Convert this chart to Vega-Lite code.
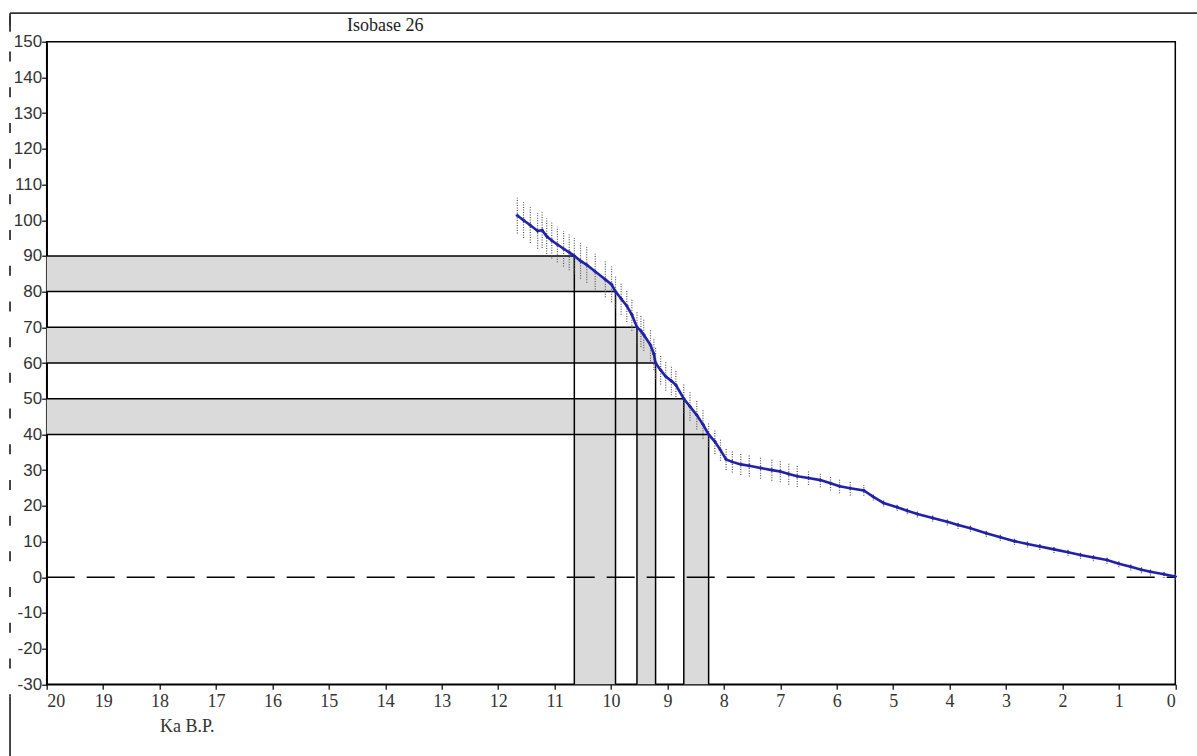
{
  "$schema": "https://vega.github.io/schema/vega-lite/v6.json",
  "width": 1128.6,
  "height": 642.6,
  "autosize": {"type": "none"},
  "padding": {"left": 46.7, "top": 41.7, "right": 21.7, "bottom": 71.7},
  "background": "white",
  "config": {
    "view": {"stroke": "black", "strokeWidth": 1.5},
    "axis": {
      "grid": false,
      "domainColor": "black",
      "domainWidth": 1.5,
      "tickColor": "black",
      "tickWidth": 1.2,
      "tickSize": 5,
      "labelColor": "#333"
    },
    "axisX": {
      "tickCount": 20,
      "labelFont": "Liberation Serif",
      "labelFontSize": 18,
      "labelPadding": 3,
      "titleFont": "Liberation Serif",
      "titleFontSize": 18,
      "titleFontWeight": "normal",
      "titleColor": "#333",
      "titleX": 140,
      "titleY": 47,
      "titleAlign": "center",
      "titleBaseline": "alphabetic"
    },
    "axisY": {
      "tickCount": 18,
      "labelFont": "Liberation Sans",
      "labelFontSize": 17,
      "labelPadding": 0,
      "labelExpr": "toString(datum.value)"
    }
  },
  "datasets": {
    "curve": [
      {"x": 11.66, "y": 101.3, "err": 5},
      {"x": 11.55, "y": 100.0, "err": 5},
      {"x": 11.43, "y": 98.6, "err": 5},
      {"x": 11.30, "y": 97.0, "err": 5},
      {"x": 11.22, "y": 97.2, "err": 5},
      {"x": 11.14, "y": 95.5, "err": 5},
      {"x": 11.05, "y": 94.3, "err": 5},
      {"x": 10.95, "y": 93.2, "err": 5},
      {"x": 10.84, "y": 92.0, "err": 5},
      {"x": 10.74, "y": 91.0, "err": 5},
      {"x": 10.65, "y": 90.0, "err": 5},
      {"x": 10.54, "y": 88.6, "err": 5},
      {"x": 10.43, "y": 87.5, "err": 5},
      {"x": 10.28, "y": 85.6, "err": 5},
      {"x": 10.10, "y": 83.4, "err": 5},
      {"x": 9.99, "y": 82.0, "err": 5},
      {"x": 9.92, "y": 80.0, "err": 4.5},
      {"x": 9.82, "y": 78.0, "err": 4.5},
      {"x": 9.72, "y": 76.0, "err": 4.5},
      {"x": 9.63, "y": 73.5, "err": 4.5},
      {"x": 9.54, "y": 70.0, "err": 4.5},
      {"x": 9.47, "y": 69.0, "err": 4.5},
      {"x": 9.42, "y": 67.9, "err": 4.5},
      {"x": 9.30, "y": 65.0, "err": 4.5},
      {"x": 9.24, "y": 62.5, "err": 4.5},
      {"x": 9.21, "y": 60.0, "err": 4.5},
      {"x": 9.12, "y": 58.0, "err": 4},
      {"x": 9.03, "y": 56.2, "err": 4},
      {"x": 8.93, "y": 55.0, "err": 4},
      {"x": 8.85, "y": 53.8, "err": 4},
      {"x": 8.71, "y": 50.0, "err": 4},
      {"x": 8.60, "y": 47.8, "err": 4},
      {"x": 8.48, "y": 45.4, "err": 4},
      {"x": 8.37, "y": 42.8, "err": 4},
      {"x": 8.27, "y": 40.0, "err": 3.5},
      {"x": 8.16, "y": 38.0, "err": 3.5},
      {"x": 8.06, "y": 35.6, "err": 3},
      {"x": 7.96, "y": 33.0, "err": 3},
      {"x": 7.85, "y": 32.3, "err": 3},
      {"x": 7.70, "y": 31.6, "err": 3},
      {"x": 7.55, "y": 31.2, "err": 3},
      {"x": 7.35, "y": 30.6, "err": 3},
      {"x": 7.15, "y": 30.0, "err": 3},
      {"x": 7.00, "y": 29.6, "err": 3},
      {"x": 6.85, "y": 28.9, "err": 3},
      {"x": 6.70, "y": 28.3, "err": 3},
      {"x": 6.50, "y": 27.8, "err": 2},
      {"x": 6.29, "y": 27.2, "err": 2},
      {"x": 6.11, "y": 26.3, "err": 2},
      {"x": 5.95, "y": 25.5, "err": 2},
      {"x": 5.76, "y": 24.9, "err": 2},
      {"x": 5.52, "y": 24.3, "err": 1.5},
      {"x": 5.35, "y": 22.5, "err": 1},
      {"x": 5.17, "y": 20.8, "err": 1},
      {"x": 4.93, "y": 19.6, "err": 1},
      {"x": 4.75, "y": 18.6, "err": 1},
      {"x": 4.57, "y": 17.7, "err": 1},
      {"x": 4.30, "y": 16.6, "err": 1},
      {"x": 4.04, "y": 15.5, "err": 1},
      {"x": 3.85, "y": 14.6, "err": 1},
      {"x": 3.63, "y": 13.7, "err": 1},
      {"x": 3.35, "y": 12.3, "err": 1},
      {"x": 3.10, "y": 11.2, "err": 1},
      {"x": 2.85, "y": 10.1, "err": 1},
      {"x": 2.62, "y": 9.3, "err": 1},
      {"x": 2.40, "y": 8.6, "err": 1},
      {"x": 2.15, "y": 7.8, "err": 1},
      {"x": 1.90, "y": 7.0, "err": 1},
      {"x": 1.68, "y": 6.2, "err": 1},
      {"x": 1.45, "y": 5.5, "err": 1},
      {"x": 1.21, "y": 4.8, "err": 1},
      {"x": 1.00, "y": 3.8, "err": 1},
      {"x": 0.79, "y": 2.9, "err": 1},
      {"x": 0.60, "y": 2.1, "err": 1},
      {"x": 0.44, "y": 1.5, "err": 1},
      {"x": 0.20, "y": 0.8, "err": 1},
      {"x": 0.00, "y": 0.2, "err": 1}
    ],
    "bands": [
      {"band": "80-90", "y": 90, "x": 10.65},
      {"band": "80-90", "y": 88.6, "x": 10.54},
      {"band": "80-90", "y": 87.5, "x": 10.43},
      {"band": "80-90", "y": 85.6, "x": 10.28},
      {"band": "80-90", "y": 83.4, "x": 10.10},
      {"band": "80-90", "y": 82.0, "x": 9.99},
      {"band": "80-90", "y": 80, "x": 9.92},
      {"band": "60-70", "y": 70, "x": 9.54},
      {"band": "60-70", "y": 69.0, "x": 9.47},
      {"band": "60-70", "y": 67.9, "x": 9.42},
      {"band": "60-70", "y": 65.0, "x": 9.30},
      {"band": "60-70", "y": 62.5, "x": 9.24},
      {"band": "60-70", "y": 60, "x": 9.21},
      {"band": "40-50", "y": 50, "x": 8.71},
      {"band": "40-50", "y": 47.8, "x": 8.60},
      {"band": "40-50", "y": 45.4, "x": 8.48},
      {"band": "40-50", "y": 42.8, "x": 8.37},
      {"band": "40-50", "y": 40, "x": 8.27}
    ],
    "columns": [
      {"band": "80-90", "xa": 10.65, "xb": 9.92},
      {"band": "60-70", "xa": 9.54, "xb": 9.21},
      {"band": "40-50", "xa": 8.71, "xb": 8.27}
    ],
    "levels": [
      {"y": 90, "x": 10.65},
      {"y": 80, "x": 9.92},
      {"y": 70, "x": 9.54},
      {"y": 60, "x": 9.21},
      {"y": 50, "x": 8.71},
      {"y": 40, "x": 8.27}
    ],
    "titleText": [{"label": "Isobase 26", "x": 14.0, "y": 153.0}],
    "frameTop": [{"xa": 20.65, "xb": -0.4, "y": 158}],
    "frameLeftDashed": [{"x": 20.65, "ya": 158, "yb": -33.5}],
    "frameLeftSolid": [{"x": 20.65, "ya": -33.5, "yb": -50.2}, {"x": 20.65, "ya": 158, "yb": 152.8}]
  },
  "layer": [
    {
      "data": {"name": "bands"},
      "mark": {"type": "area", "orient": "horizontal", "color": "#dadada", "opacity": 1},
      "encoding": {
        "y": {"field": "y", "type": "quantitative", "scale": {"domain": [-30, 150], "nice": false}, "title": null},
        "x": {"field": "x", "type": "quantitative", "scale": {"domain": [0, 20], "reverse": true, "nice": false}, "title": "Ka B.P."},
        "x2": {"datum": 20},
        "detail": {"field": "band"}
      }
    },
    {
      "data": {"name": "columns"},
      "mark": {"type": "rect", "color": "#dadada"},
      "encoding": {
        "x": {"field": "xa", "type": "quantitative", "scale": {"domain": [0, 20], "reverse": true, "nice": false}, "title": "Ka B.P."},
        "x2": {"field": "xb"},
        "y": {"datum": -30, "type": "quantitative", "scale": {"domain": [-30, 150], "nice": false}, "title": null},
        "y2": {"datum": 40}
      }
    },
    {
      "data": {"name": "levels"},
      "mark": {"type": "rule", "color": "black", "strokeWidth": 1.5},
      "encoding": {
        "x": {"field": "x", "type": "quantitative", "scale": {"domain": [0, 20], "reverse": true, "nice": false}, "title": "Ka B.P."},
        "x2": {"datum": 20},
        "y": {"field": "y", "type": "quantitative", "scale": {"domain": [-30, 150], "nice": false}, "title": null}
      }
    },
    {
      "data": {"name": "levels"},
      "mark": {"type": "rule", "color": "black", "strokeWidth": 1.5},
      "encoding": {
        "x": {"field": "x", "type": "quantitative", "scale": {"domain": [0, 20], "reverse": true, "nice": false}, "title": "Ka B.P."},
        "y": {"field": "y", "type": "quantitative", "scale": {"domain": [-30, 150], "nice": false}, "title": null},
        "y2": {"datum": -30}
      }
    },
    {
      "data": {"values": [{"y": 0}]},
      "mark": {"type": "rule", "color": "black", "strokeWidth": 1.5, "strokeDash": [28, 12]},
      "encoding": {
        "x": {"datum": 20, "type": "quantitative", "scale": {"domain": [0, 20], "reverse": true, "nice": false}, "title": "Ka B.P."},
        "x2": {"datum": 0},
        "y": {"field": "y", "type": "quantitative", "scale": {"domain": [-30, 150], "nice": false}, "title": null}
      }
    },
    {
      "data": {"name": "curve"},
      "mark": {"type": "errorbar", "ticks": false, "rule": {"strokeDash": [1, 1.5], "color": "#555", "strokeWidth": 1.2}},
      "encoding": {
        "x": {"field": "x", "type": "quantitative", "scale": {"domain": [0, 20], "reverse": true, "nice": false}, "title": "Ka B.P."},
        "y": {"field": "y", "type": "quantitative", "scale": {"domain": [-30, 150], "nice": false}, "title": null},
        "yError": {"field": "err"}
      }
    },
    {
      "data": {"name": "curve"},
      "mark": {"type": "line", "color": "#2222a8", "strokeWidth": 2.6, "point": {"shape": "cross", "size": 12, "color": "#2222a8", "filled": true}},
      "encoding": {
        "x": {"field": "x", "type": "quantitative", "scale": {"domain": [0, 20], "reverse": true, "nice": false}, "title": "Ka B.P."},
        "y": {"field": "y", "type": "quantitative", "scale": {"domain": [-30, 150], "nice": false}, "title": null}
      }
    },
    {
      "data": {"name": "titleText"},
      "mark": {"type": "text", "font": "Liberation Serif", "fontSize": 18, "color": "#222", "align": "center", "baseline": "alphabetic"},
      "encoding": {
        "x": {"field": "x", "type": "quantitative", "scale": {"domain": [0, 20], "reverse": true, "nice": false}, "title": "Ka B.P."},
        "y": {"field": "y", "type": "quantitative", "scale": {"domain": [-30, 150], "nice": false}, "title": null},
        "text": {"field": "label"}
      }
    },
    {
      "data": {"name": "frameTop"},
      "mark": {"type": "rule", "color": "#333", "strokeWidth": 1.8},
      "encoding": {
        "x": {"field": "xa", "type": "quantitative", "scale": {"domain": [0, 20], "reverse": true, "nice": false}, "title": "Ka B.P."},
        "x2": {"field": "xb"},
        "y": {"field": "y", "type": "quantitative", "scale": {"domain": [-30, 150], "nice": false}, "title": null}
      }
    },
    {
      "data": {"name": "frameLeftDashed"},
      "mark": {"type": "rule", "color": "#333", "strokeWidth": 1.8, "strokeDash": [10, 25.7], "strokeDashOffset": 33},
      "encoding": {
        "x": {"field": "x", "type": "quantitative", "scale": {"domain": [0, 20], "reverse": true, "nice": false}, "title": "Ka B.P."},
        "y": {"field": "ya", "type": "quantitative", "scale": {"domain": [-30, 150], "nice": false}, "title": null},
        "y2": {"field": "yb"}
      }
    },
    {
      "data": {"name": "frameLeftSolid"},
      "mark": {"type": "rule", "color": "#333", "strokeWidth": 1.8},
      "encoding": {
        "x": {"field": "x", "type": "quantitative", "scale": {"domain": [0, 20], "reverse": true, "nice": false}, "title": "Ka B.P."},
        "y": {"field": "ya", "type": "quantitative", "scale": {"domain": [-30, 150], "nice": false}, "title": null},
        "y2": {"field": "yb"}
      }
    }
  ]
}
